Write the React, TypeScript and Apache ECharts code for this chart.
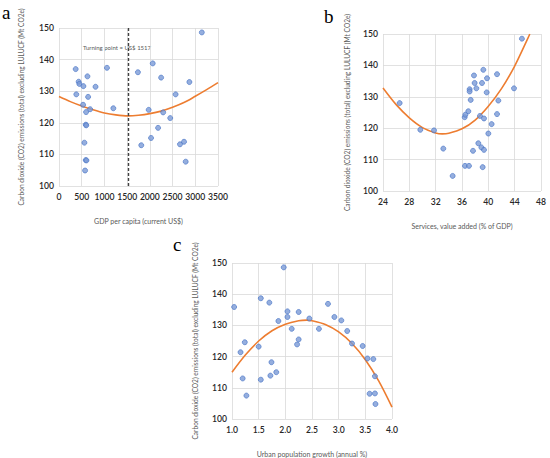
import React, { useEffect, useRef } from "react";
import * as echarts from "echarts";

// Panel a: GDP per capita vs CO2
const gdpX = [367, 381, 433, 448, 537, 626, 804, 641, 530, 596, 685, 589, 600, 559, 589, 604, 574, 1056, 1196, 1737, 2063, 2248, 1811, 1974, 2026, 2181, 2293, 2448, 2567, 2663, 2752, 2789, 2870, 3144];
const co2A = [137.0, 129.0, 133.0, 132.3, 131.6, 134.7, 131.4, 128.2, 125.7, 123.4, 124.3, 119.4, 119.2, 113.7, 108.2, 108.1, 104.9, 137.4, 124.6, 136.0, 138.8, 134.3, 112.9, 124.1, 115.2, 118.4, 123.3, 121.5, 129.0, 113.2, 114.0, 107.7, 132.9, 148.6];
const curveAX = [0, 250, 500, 750, 1000, 1250, 1517, 1750, 2000, 2250, 2500, 2750, 3000, 3250, 3500];
const curveAY = [128.3, 126.7, 125.3, 124.1, 123.1, 122.5, 122.2, 122.4, 122.9, 123.7, 124.9, 126.4, 128.4, 130.5, 132.7];
const turningPoint = 1517;

// Panel b: services value added vs CO2
const servX = [26.53, 29.67, 31.75, 33.16, 34.58, 36.41, 36.51, 36.46, 37.06, 36.96, 37.16, 37.16, 37.32, 37.82, 37.92, 38.18, 37.67, 38.48, 38.73, 38.94, 39.04, 39.24, 39.34, 39.34, 39.14, 39.8, 39.75, 40.0, 40.5, 41.32, 41.32, 41.52, 43.9, 45.1];
const co2B = [128.0, 119.5, 119.3, 113.5, 104.8, 123.5, 124.3, 108.0, 108.0, 125.4, 132.4, 131.7, 129.0, 136.8, 134.4, 132.7, 112.8, 115.2, 123.9, 113.9, 134.4, 138.6, 123.1, 113.1, 107.6, 135.9, 131.4, 118.3, 121.3, 137.2, 124.5, 128.8, 132.7, 148.5];
const curveBX = [24, 26, 28, 30, 32, 33, 34, 36, 38, 40, 42, 44, 46, 46.3];
const curveBY = [132.8, 127.5, 123.3, 120.2, 118.5, 118.2, 118.4, 119.8, 122.6, 127.0, 132.6, 139.8, 148.6, 150.0];

// Panel c: urban population growth vs CO2
const urbX = [1.04, 1.16, 1.2, 1.24, 1.27, 1.5, 1.54, 1.54, 1.7, 1.72, 1.74, 1.83, 1.87, 1.97, 2.04, 2.04, 2.12, 2.22, 2.25, 2.25, 2.45, 2.63, 2.8, 2.92, 3.05, 3.16, 3.25, 3.45, 3.54, 3.65, 3.68, 3.58, 3.68, 3.69];
const co2C = [135.9, 121.4, 113.0, 124.6, 107.5, 123.2, 138.7, 112.6, 137.3, 113.9, 118.2, 115.0, 131.4, 148.6, 134.5, 132.7, 128.9, 123.9, 125.5, 134.3, 132.2, 128.9, 136.9, 132.7, 131.6, 128.2, 124.2, 123.4, 119.4, 119.2, 113.7, 108.1, 108.2, 104.8];
const curveCX = [1.0, 1.25, 1.5, 1.75, 2.0, 2.25, 2.4, 2.5, 2.75, 3.0, 3.25, 3.5, 3.75, 4.0];
const curveCY = [115.0, 120.5, 125.0, 128.3, 130.4, 131.5, 131.7, 131.5, 130.3, 127.9, 124.2, 119.0, 112.2, 103.8];

const yTitle = "Carbon dioxide (CO2) emissions (total) excluding LULUCF (Mt CO2e)";
const xTitles = ["GDP per capita (current US$)", "Services, value added (% of GDP)", "Urban population growth (annual %)"];
const panelLetters = ["a", "b", "c"];

const zip = (xs: number[], ys: number[]) => xs.map((x, i) => [x, ys[i]]);

const FONT = "Lato, 'Open Sans', sans-serif";
const TICK_COLOR = "#262626";
const TITLE_COLOR = "#595959";
const GRID_COLOR = "#d9d9d9";
const TICK_SIZE = 8.6;

export default function App() {
  const ref = useRef<HTMLDivElement>(null);
  useEffect(() => {
    document.body.style.margin = "0";
    if (!ref.current) return;
    const chart = echarts.init(ref.current, undefined, { renderer: "svg" });

    const xAxisBase = (gridIndex: number, min: number, max: number, interval: number, name: string, fmt: (v: number) => string) => ({
      type: "value",
      gridIndex,
      min,
      max,
      interval,
      name,
      nameLocation: "middle",
      nameGap: 31,
      nameTextStyle: { fontSize: 7, color: TITLE_COLOR, fontFamily: FONT },
      axisLine: { show: false },
      axisTick: { show: false },
      axisLabel: { fontSize: TICK_SIZE, color: TICK_COLOR, fontFamily: FONT, fontWeight: 600, margin: 6, formatter: fmt },
      splitLine: { show: true, lineStyle: { color: GRID_COLOR, width: 0.8 } },
    });
    const yAxisBase = (gridIndex: number, nameGap: number) => ({
      type: "value",
      gridIndex,
      min: 100,
      max: 150,
      interval: 10,
      name: yTitle,
      nameLocation: "middle",
      nameGap,
      nameTextStyle: { fontSize: 6.6, color: TITLE_COLOR, fontFamily: FONT },
      axisLine: { show: false },
      axisTick: { show: false },
      axisLabel: { fontSize: TICK_SIZE, color: TICK_COLOR, fontFamily: FONT, fontWeight: 600, margin: 5 },
      splitLine: { show: true, lineStyle: { color: GRID_COLOR, width: 0.8 } },
    });

    const scatter = (i: number, data: number[][], extra: any = {}) => ({
      type: "scatter",
      xAxisIndex: i,
      yAxisIndex: i,
      data,
      symbolSize: 5,
      itemStyle: { color: "#7a9ad6", borderColor: "#4472c4", borderWidth: 0.8 },
      z: 3,
      ...extra,
    });
    const curve = (i: number, data: number[][]) => ({
      type: "line",
      xAxisIndex: i,
      yAxisIndex: i,
      data,
      smooth: 0.3,
      showSymbol: false,
      symbol: "none",
      lineStyle: { color: "#ed7d31", width: 1.6 },
      z: 2,
    });

    chart.setOption({
      animation: false,
      grid: [
        { left: 59, top: 28, width: 159, height: 158 },
        { left: 383, top: 34, width: 158, height: 157 },
        { left: 232, top: 263, width: 160, height: 158 },
      ],
      xAxis: [
        xAxisBase(0, 0, 3500, 500, xTitles[0], (v: number) => String(v)),
        xAxisBase(1, 24, 48, 4, xTitles[1], (v: number) => String(v)),
        xAxisBase(2, 1, 4, 0.5, xTitles[2], (v: number) => v.toFixed(1)),
      ],
      yAxis: [yAxisBase(0, 35), yAxisBase(1, 33), yAxisBase(2, 34)],
      series: [
        scatter(0, zip(gdpX, co2A), {
          markLine: {
            silent: true,
            symbol: "none",
            label: { show: false },
            lineStyle: { color: "#404040", type: [3, 2], width: 1.4 },
            data: [{ xAxis: turningPoint }],
          },
        }),
        curve(0, zip(curveAX, curveAY)),
        scatter(1, zip(servX, co2B)),
        curve(1, zip(curveBX, curveBY)),
        scatter(2, zip(urbX, co2C)),
        curve(2, zip(curveCX, curveCY)),
      ],
      graphic: [
        {
          type: "text",
          x: 83,
          y: 44,
          style: { text: "Turning point = US$ " + turningPoint, fontSize: 6, fill: TITLE_COLOR, fontFamily: FONT },
        },
        { type: "text", x: 2, y: 3, style: { text: panelLetters[0], fontSize: 19, fill: "#000", fontFamily: "'Liberation Serif', serif" } },
        { type: "text", x: 324, y: 7, style: { text: panelLetters[1], fontSize: 19, fill: "#000", fontFamily: "'Liberation Serif', serif" } },
        { type: "text", x: 173, y: 235, style: { text: panelLetters[2], fontSize: 19, fill: "#000", fontFamily: "'Liberation Serif', serif" } },
      ],
    });
    return () => chart.dispose();
  }, []);
  return <div ref={ref} style={{ width: 550, height: 458 }} />;
}
